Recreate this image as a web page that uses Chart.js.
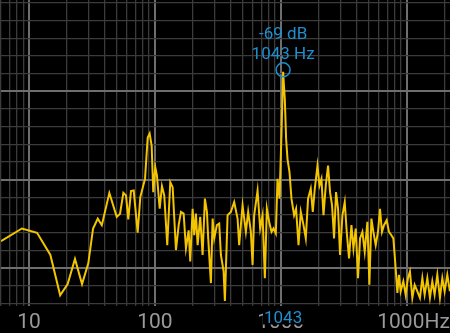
<!DOCTYPE html>
<html>
<head>
<meta charset="utf-8">
<script src="https://cdn.jsdelivr.net/npm/chart.js@4/dist/chart.umd.min.js"></script>
<style>
html, body { margin: 0; padding: 0; background: #000; overflow: hidden; }
canvas { display: block; }
</style>
</head>
<body>
<canvas id="spectrum" width="450" height="333"></canvas>
<script>
// spectrum (Hz / dB)
const freqs = [6, 8.8, 11.6, 14.8, 17.7, 20.3, 23.2, 26.4, 29.6, 32.3,
    35.2, 37.9, 43.5, 49.8, 52.9, 56.2, 59, 61.5, 64.6, 67.9,
    73, 76.6, 83.5, 87.7, 90.9, 94.3, 97.1, 100.7, 103.9, 109.2,
    113.8, 118.7, 125.4, 132.5, 138.4, 147, 154.5, 161.1, 169.2, 176.5,
    185.4, 190.9, 199.4, 205.3, 211.8, 218.5, 229.1, 239.3, 249.6, 259,
    265.2, 278.6, 287.4, 296, 310.9, 324.2, 334.4, 351.3, 359.7, 377.9,
    401.3, 426.3, 453.6, 467, 496.9, 527.8, 550.4, 578.3, 596.6, 614.3,
    653.7, 685.5, 716.2, 746.9, 774.7, 807.9, 843.9, 875.2, 912.7, 941.5,
    976.5, 1013, 1043, 1076, 1102, 1130, 1172, 1215, 1275, 1322,
    1382, 1441, 1514, 1579, 1646, 1729, 1794, 1861, 1955, 2028,
    2102, 2182, 2275, 2372, 2460, 2552, 2647, 2745, 2848, 2954,
    3085, 3218, 3337, 3481, 3637, 3773, 3934, 4103, 4256, 4446,
    4636, 4870, 5051, 5240, 5434, 5668, 5910, 6130, 6357, 6595,
    6928, 7225, 7550, 7830, 8166, 8423, 8673, 8946, 9397, 9801,
    10221, 10602, 11075, 11553, 12140, 12730, 13300, 13870, 14570, 15280,
    15960, 16640, 17490, 18340, 19160, 19980, 20990, 22010];

const levels = [-164.8, -157.7, -160.1, -172.7, -195.5, -189.2, -174.9, -189.2, -177.4, -157.7,
    -152.1, -155.8, -137.6, -151.1, -149.3, -137.5, -139.0, -152.5, -136.5, -136.2,
    -160.0, -139.9, -129.6, -106.2, -103.9, -110.9, -137.1, -123.0, -127.8, -146.5,
    -133.7, -139.0, -167.1, -131.5, -134.3, -169.9, -155.8, -148.3, -149.3, -168.9,
    -158.7, -176.4, -146.5, -161.5, -149.3, -167.1, -151.1, -172.7, -140.8, -148.3,
    -163.3, -188.6, -152.1, -163.3, -155.8, -154.9, -172.7, -182.0, -198.7, -150.2,
    -148.3, -142.7, -152.1, -167.1, -144.6, -159.6, -148.3, -159.6, -178.3, -150.2,
    -136.2, -157.7, -150.2, -185.8, -146.5, -153.9, -159.6, -157.7, -160.5, -129.6,
    -140.8, -103.4, -69, -84.7, -107.1, -118.4, -125.8, -140.8, -150.2, -146.5,
    -167.1, -148.3, -155.8, -163.3, -140.8, -135.2, -148.3, -135.2, -122.1, -133.4,
    -129.6, -150.2, -133.4, -122.1, -137.1, -144.6, -163.3, -137.1, -146.5, -172.7,
    -150.2, -142.7, -159.6, -174.6, -155.8, -168.9, -157.7, -185.8, -163.3, -159.6,
    -170.8, -153.9, -189.6, -152.1, -159.6, -167.1, -159.6, -146.5, -159.6, -155.8,
    -153.0, -159.6, -161.5, -163.3, -180.2, -194.2, -183.9, -193.3, -187.6, -195.2,
    -185.8, -182.0, -197.0, -189.6, -193.3, -197.0, -185.8, -195.2, -185.8, -197.0,
    -187.6, -195.2, -183.9, -197.0, -185.8, -193.3, -183.9, -193.3];

const decades = [1, 10, 100, 1000, 10000];
const decadeLabels = ['', '10', '100', '1000', '10000'];
const dbLines = [-200, -190, -180, -170, -160, -150, -140, -130, -120, -110,
    -100, -90, -80, -70, -60, -50, -40, -30];
const dbMajor = [-180, -130, -80];

const peakFreq = 1043;
const peakDb = -69;

const freqMin = 6;
const freqMax = 22050;
const blue = '#1f8fcf';
const gridMinor = '#3b3b3b';
const gridMajor = '#6e6e6e';

// all 1..9 x decade lines inside the range
let freqLines = [];
for (const d of decades) {
    for (let m = 1; m <= 9; m++) {
        let v = d * m;
        if (v >= freqMin && v <= freqMax) freqLines.push(v);
    }
}

const isDecade = (v) => decades.includes(v);

const peakMarker = {
    id: 'peakMarker',
    afterDraw(chart) {
        const { ctx, chartArea, scales: { x, y } } = chart;
        let px = x.getPixelForValue(peakFreq);
        let py = y.getPixelForValue(peakDb);
        ctx.save();
        ctx.strokeStyle = blue;
        ctx.lineWidth = 1.5;
        ctx.beginPath();
        ctx.arc(px, py - 2, 7, 0, Math.PI * 2);
        ctx.stroke();

        ctx.fillStyle = blue;
        ctx.font = '17px Roboto';
        ctx.textAlign = 'center';
        ctx.textBaseline = 'middle';
        ctx.fillText(peakDb + ' dB', px, py - 37);
        ctx.fillText(peakFreq + ' Hz', px, py - 17);

        // frequency readout on the axis
        let w = ctx.measureText(String(peakFreq)).width;
        ctx.fillStyle = '#000';
        ctx.fillRect(px - w / 2 - 1, chartArea.bottom + 5, w + 2, 14);
        ctx.fillStyle = blue;
        ctx.fillText(String(peakFreq), px, chartArea.bottom + 13);

        // unit at the right end of the axis
        ctx.font = '21px Roboto';
        ctx.textAlign = 'right';
        let hw = ctx.measureText('Hz').width;
        ctx.fillStyle = '#000';
        ctx.fillRect(chartArea.right - hw - 1, chartArea.bottom + 4, hw + 1, 26);
        ctx.fillStyle = '#9a9a9a';
        ctx.fillText('Hz', chartArea.right, chartArea.bottom + 17);
        ctx.restore();
    }
};

const blackBg = {
    id: 'blackBg',
    beforeDraw(chart) {
        const ctx = chart.ctx;
        ctx.save();
        ctx.fillStyle = '#000';
        ctx.fillRect(0, 0, chart.width, chart.height);
        ctx.restore();
    }
};

let node = document.getElementById('spectrum').getContext('2d');

let spectrumChart = new Chart(node, {
    type: 'line',
    data: {
        datasets: [{
            data: freqs.map((f, i) => ({ x: f, y: levels[i] })),
            borderColor: '#f3c400',
            borderWidth: 2,
            pointRadius: 0,
            tension: 0,
            fill: false
        }]
    },
    options: {
        responsive: false,
        animation: false,
        devicePixelRatio: 1,
        layout: { padding: { left: 0, right: 0, top: 0, bottom: -6 } },
        plugins: {
            legend: { display: false },
            tooltip: { enabled: false }
        },
        scales: {
            x: {
                type: 'logarithmic',
                min: freqMin,
                max: freqMax,
                afterBuildTicks: (scale) => {
                    scale.ticks = freqLines.map(v => ({ value: v }));
                },
                ticks: {
                    autoSkip: false,
                    maxRotation: 0,
                    minRotation: 0,
                    padding: 1,
                    color: '#9a9a9a',
                    font: { family: 'Roboto', size: 21, lineHeight: 1.5 },
                    callback: (value) => {
                        let i = decades.indexOf(value);
                        return i >= 0 ? decadeLabels[i] : '';
                    }
                },
                grid: {
                    drawTicks: false,
                    color: (c) => isDecade(c.tick && c.tick.value) ? gridMajor : gridMinor,
                    lineWidth: (c) => isDecade(c.tick && c.tick.value) ? 2 : 1.3
                },
                border: { display: false }
            },
            y: {
                type: 'linear',
                min: -201.3,
                max: -28.3,
                afterBuildTicks: (scale) => {
                    scale.ticks = dbLines.map(v => ({ value: v }));
                },
                ticks: { display: false },
                grid: {
                    drawTicks: false,
                    color: (c) => dbMajor.includes(c.tick && c.tick.value) ? gridMajor : gridMinor,
                    lineWidth: (c) => dbMajor.includes(c.tick && c.tick.value) ? 2 : 1.3
                },
                border: { display: false }
            }
        }
    },
    plugins: [blackBg, peakMarker]
});
</script>
</body>
</html>
